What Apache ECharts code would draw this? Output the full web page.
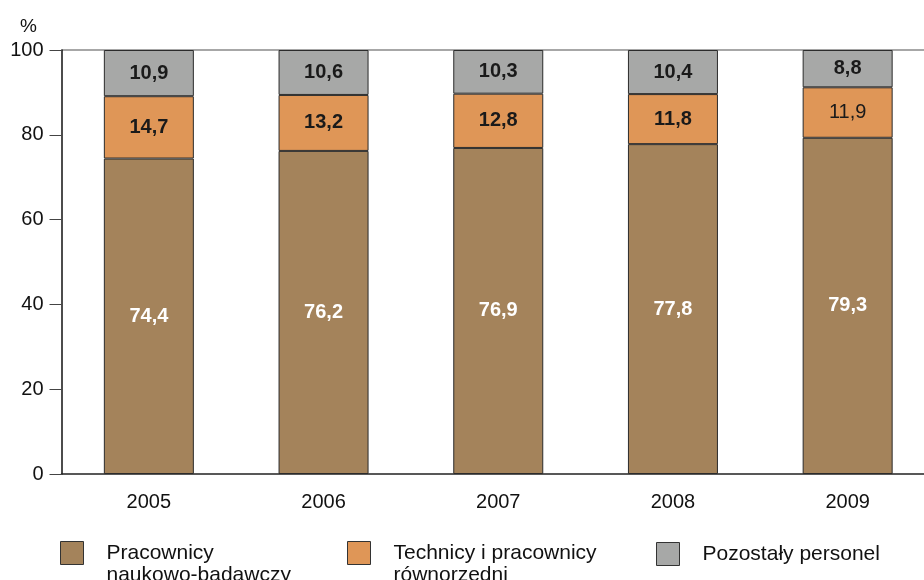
<!DOCTYPE html>
<html>
<head>
<meta charset="utf-8">
<script src="https://cdn.jsdelivr.net/npm/echarts@6/dist/echarts.min.js"></script>
<style>
  html, body { margin: 0; padding: 0; background: #fff; }
  #chart { width: 924px; height: 580px; }
</style>
</head>
<body>
<div id="chart"></div>
<script>
const years = ["2005", "2006", "2007", "2008", "2009"];
const researchers = [74.4, 76.2, 76.9, 77.8, 79.3];
const technicians = [14.7, 13.2, 12.8, 11.8, 11.9];
const otherStaff = [10.9, 10.6, 10.3, 10.4, 8.8];
const yTicks = [0, 20, 40, 60, 80, 100];

const seriesNames = [
  "Pracownicy\nnaukowo-badawczy",
  "Technicy i pracownicy\nrównorzędni",
  "Pozostały personel",
];

const FONT = "'Liberation Sans', Arial, sans-serif";
const COLORS = ["#a4835b", "#df9657", "#a7a8a7"];
const LABEL_COLORS = ["#ffffff", "#1a1a1a", "#1a1a1a"];

const fmt = (v) => v.toFixed(1).replace(".", ",");

const makeSeries = (idx, values) => ({
  name: seriesNames[idx],
  type: "bar",
  stack: "total",
  barWidth: 90,
  itemStyle: { color: COLORS[idx], borderColor: "#2b2b2b", borderWidth: 1 },
  label: {
    show: true,
    position: "inside",
    fontFamily: FONT,
    fontSize: 20,
    fontWeight: "bold",
    color: LABEL_COLORS[idx],
    formatter: (p) => fmt(p.value),
  },
  data: values.map((v, i) =>
    // 2009 technicians label is drawn in regular weight in the source
    idx === 1 && i === 4 ? { value: v, label: { fontWeight: "normal" } } : v
  ),
});

// icon sits next to the first line of the text, so two-line names get an
// empty leading line to push the first line onto the icon's centre
const legendAt = (idx, left) => {
  const multi = seriesNames[idx].includes("\n");
  return {
    data: [seriesNames[idx]],
    left: left,
    top: multi ? 520 : 542,
    padding: 0,
    itemWidth: 23,
    itemHeight: 23,
    icon: "rect",
    selectedMode: false,
    formatter: (name) => (multi ? "\n" + name : name),
    itemStyle: { borderColor: "#333", borderWidth: 1 },
    textStyle: {
      fontFamily: FONT,
      fontSize: 21,
      color: "#111",
      lineHeight: 22,
      padding: [0, 0, 0, 18],
    },
  };
};

const chart = echarts.init(document.getElementById("chart"));

chart.setOption({
  animation: false,
  backgroundColor: "#fff",
  title: {
    text: "%",
    left: 15,
    top: 12,
    textStyle: { fontFamily: FONT, fontSize: 19, fontWeight: "normal", color: "#111" },
  },
  // the source is cropped on the right, so the plot runs past the canvas edge
  grid: { left: 61.5, right: -11, top: 50, bottom: 106, outerBoundsMode: "none" },
  legend: [legendAt(0, 60), legendAt(1, 347), legendAt(2, 656)],
  xAxis: {
    type: "category",
    data: years,
    axisLine: { lineStyle: { color: "#222", width: 1.5 } },
    axisTick: { show: false },
    axisLabel: { fontFamily: FONT, fontSize: 20, color: "#111", margin: 18 },
  },
  yAxis: {
    type: "value",
    min: yTicks[0],
    max: yTicks[yTicks.length - 1],
    interval: 20,
    axisLine: { show: true, lineStyle: { color: "#111", width: 1.5 } },
    axisTick: { show: true, length: 12, lineStyle: { color: "#444" } },
    axisLabel: { fontFamily: FONT, fontSize: 20, color: "#111", margin: 18 },
    splitLine: {
      show: true,
      lineStyle: {
        color: ["transparent", "transparent", "transparent", "transparent", "transparent", "#8a8a8a"],
        width: 1.5,
      },
    },
  },
  series: [
    makeSeries(0, researchers),
    makeSeries(1, technicians),
    makeSeries(2, otherStaff),
  ],
});
</script>
</body>
</html>
